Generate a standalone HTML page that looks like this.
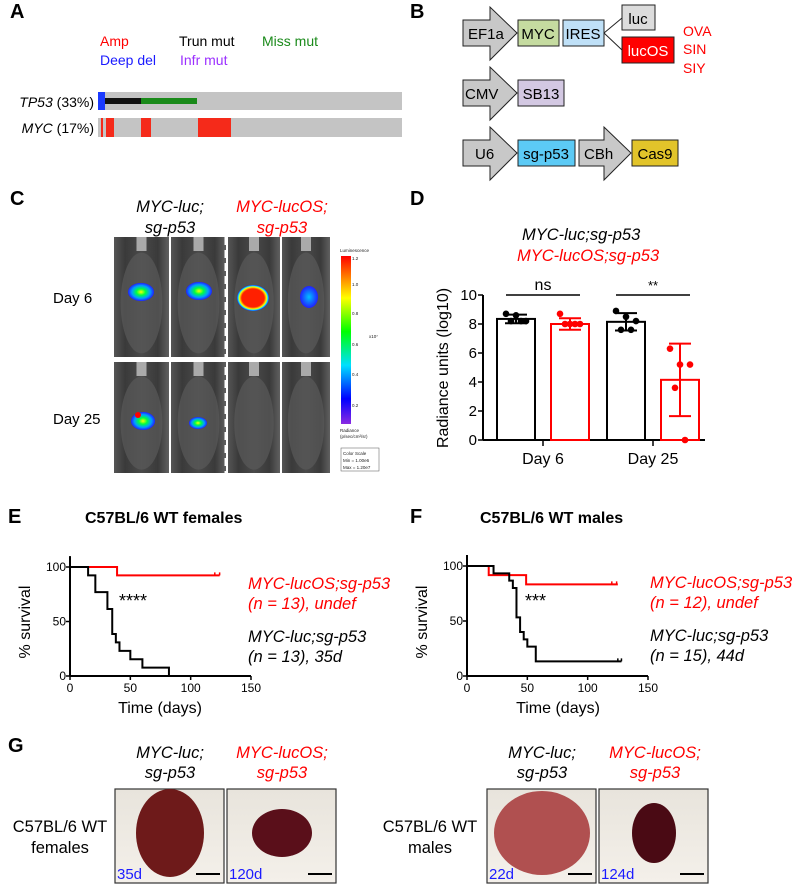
<!DOCTYPE html>
<html><head><meta charset="utf-8"><style>
html,body{margin:0;padding:0;background:#fff;}
svg{display:block;font-family:"Liberation Sans",Arial,sans-serif;}
</style></head><body>
<svg id="fig" width="800" height="886" viewBox="0 0 800 886" xmlns="http://www.w3.org/2000/svg">
<defs>
<linearGradient id="cbar" x1="0" y1="1" x2="0" y2="0">
<stop offset="0" stop-color="#8a2be2"/><stop offset="0.15" stop-color="#0000ff"/><stop offset="0.35" stop-color="#00e0ff"/><stop offset="0.55" stop-color="#00ff00"/><stop offset="0.75" stop-color="#ffff00"/><stop offset="1" stop-color="#ff0000"/></linearGradient>
<linearGradient id="mouse" x1="0" y1="0" x2="1" y2="0">
<stop offset="0" stop-color="#555"/><stop offset="0.2" stop-color="#3a3a3a"/><stop offset="0.5" stop-color="#4a4a4a"/><stop offset="0.8" stop-color="#3a3a3a"/><stop offset="1" stop-color="#606060"/></linearGradient>
<radialGradient id="blob"><stop offset="0" stop-color="#ffff00"/><stop offset="0.35" stop-color="#00ff40"/><stop offset="0.7" stop-color="#00a0ff"/><stop offset="1" stop-color="#2020ff"/></radialGradient>
<radialGradient id="blobR"><stop offset="0" stop-color="#ff2000"/><stop offset="0.7" stop-color="#ff2000"/><stop offset="0.85" stop-color="#ffff00"/><stop offset="0.93" stop-color="#00e0ff"/><stop offset="1" stop-color="#2020ff"/></radialGradient>
<radialGradient id="blobB"><stop offset="0" stop-color="#00c0ff"/><stop offset="1" stop-color="#2020ff"/></radialGradient>
<linearGradient id="liverbg" x1="0" y1="0" x2="0" y2="1"><stop offset="0" stop-color="#e8e4dc"/><stop offset="1" stop-color="#f4f0ea"/></linearGradient>
</defs>

<g font-weight="bold" font-size="20">
<text x="10" y="18">A</text>
<text x="410" y="18">B</text>
<text x="10" y="205">C</text>
<text x="410" y="205">D</text>
<text x="8" y="523">E</text>
<text x="410" y="523">F</text>
<text x="8" y="752">G</text>
</g>

<g font-size="14">
<text x="100" y="46" fill="#f00">Amp</text>
<text x="179" y="46" fill="#000">Trun mut</text>
<text x="262" y="46" fill="#1a8a1a">Miss mut</text>
<text x="100" y="65" fill="#1a1aff">Deep del</text>
<text x="180" y="65" fill="#9b30ff">Infr mut</text>
<text x="94" y="107" text-anchor="end"><tspan font-style="italic">TP53</tspan> (33%)</text>
<text x="94" y="133" text-anchor="end"><tspan font-style="italic">MYC</tspan> (17%)</text>
<rect x="98" y="92" width="304" height="18" fill="#c4c4c4"/>
<rect x="98" y="92" width="7" height="18" fill="#1a3aff"/>
<rect x="105" y="98" width="36" height="6" fill="#111"/>
<rect x="141" y="98" width="56" height="6" fill="#1a8a1a"/>
<rect x="98" y="118" width="304" height="19" fill="#c4c4c4"/>
<rect x="101" y="118" width="2" height="19" fill="#f52a1a"/>
<rect x="106" y="118" width="8" height="19" fill="#f52a1a"/>
<rect x="141" y="118" width="10" height="19" fill="#f52a1a"/>
<rect x="198" y="118" width="33" height="19" fill="#f52a1a"/>
</g>

<g font-size="15" stroke="#222" stroke-width="1">
<polygon points="463,20 490,20 490,7 517,33 490,60 490,46 463,46" fill="#c8c8c8"/>
<text x="468" y="39" stroke="none">EF1a</text>
<rect x="518" y="20" width="41" height="26" fill="#c5dba0"/>
<text x="538" y="39" text-anchor="middle" stroke="none">MYC</text>
<rect x="563" y="20" width="41" height="26" fill="#bfe0f7"/>
<text x="583" y="39" text-anchor="middle" stroke="none">IRES</text>
<line x1="604" y1="33" x2="622" y2="18"/><line x1="604" y1="33" x2="622" y2="50"/>
<rect x="622" y="5" width="33" height="25" fill="#dcdcdc"/>
<text x="638" y="24" text-anchor="middle" stroke="none">luc</text>
<rect x="622" y="37" width="52" height="26" fill="#f00"/>
<text x="648" y="56" text-anchor="middle" stroke="none" fill="#fff">lucOS</text>
<g stroke="none" fill="#f00" font-size="14"><text x="683" y="36">OVA</text><text x="683" y="54">SIN</text><text x="683" y="73">SIY</text></g>
<polygon points="463,80 490,80 490,67 517,93 490,120 490,106 463,106" fill="#c8c8c8"/>
<text x="465" y="99" stroke="none">CMV</text>
<rect x="518" y="80" width="46" height="26" fill="#d3c8e2"/>
<text x="541" y="99" text-anchor="middle" stroke="none">SB13</text>
<polygon points="463,140 490,140 490,127 517,153 490,180 490,166 463,166" fill="#c8c8c8"/>
<text x="475" y="159" stroke="none">U6</text>
<rect x="518" y="140" width="57" height="26" fill="#5ccaf5"/>
<text x="546" y="159" text-anchor="middle" stroke="none">sg-p53</text>
<polygon points="579,140 604,140 604,127 631,153 604,180 604,166 579,166" fill="#c8c8c8"/>
<text x="584" y="159" stroke="none">CBh</text>
<rect x="632" y="140" width="46" height="26" fill="#e2c42a"/>
<text x="655" y="159" text-anchor="middle" stroke="none">Cas9</text>
</g>

<g>
<g font-size="16.5" font-style="italic" text-anchor="middle">
<text x="170" y="212">MYC-luc;</text>
<text x="170" y="233">sg-p53</text>
<text x="282" y="212" fill="#f00">MYC-lucOS;</text>
<text x="282" y="233" fill="#f00">sg-p53</text>
</g>
<text x="53" y="303" font-size="15">Day 6</text>
<text x="53" y="424" font-size="15">Day 25</text>
<g id="mice"></g>
<rect x="341" y="256" width="10" height="168" fill="url(#cbar)"/>
<g font-size="4.5" fill="#222">
<text x="340" y="252">Luminescence</text>
<text x="352" y="260">1.2</text><text x="352" y="286">1.0</text><text x="352" y="315">0.8</text><text x="352" y="346">0.6</text><text x="352" y="376">0.4</text><text x="352" y="407">0.2</text>
<text x="369" y="338">x10⁷</text>
<text x="340" y="432">Radiance</text><text x="340" y="438">(p/sec/cm²/sr)</text>
<rect x="341" y="448" width="38" height="23" fill="none" stroke="#555" stroke-width="0.5"/>
<text x="343" y="455">Color Scale</text><text x="343" y="462">Min = 1.00e6</text><text x="343" y="469">Max = 1.20e7</text>
</g>
</g>

<g id="panelD">
<text x="522" y="240" font-size="16.5" font-style="italic">MYC-luc;sg-p53</text>
<text x="517" y="261" font-size="16.5" font-style="italic" fill="#f00">MYC-lucOS;sg-p53</text>
<text transform="translate(448,368) rotate(-90)" font-size="16" text-anchor="middle">Radiance units (log10)</text>
</g>

<g id="panelE">
<text x="85" y="523" font-size="16" font-weight="bold">C57BL/6 WT females</text>
<text x="119" y="607" font-size="18">****</text>
<text transform="translate(30,622) rotate(-90)" font-size="16" text-anchor="middle">% survival</text>
<text x="160" y="713" font-size="16" text-anchor="middle">Time (days)</text>
<g font-size="16.5" font-style="italic">
<text x="248" y="589" fill="#f00">MYC-lucOS;sg-p53</text>
<text x="248" y="609" fill="#f00">(n = 13), undef</text>
<text x="248" y="642">MYC-luc;sg-p53</text>
<text x="248" y="662">(n = 13), 35d</text>
</g>
</g>

<g id="panelF">
<text x="480" y="523" font-size="16" font-weight="bold">C57BL/6 WT males</text>
<text x="525" y="607" font-size="18">***</text>
<text transform="translate(427,622) rotate(-90)" font-size="16" text-anchor="middle">% survival</text>
<text x="558" y="713" font-size="16" text-anchor="middle">Time (days)</text>
<g font-size="16.5" font-style="italic">
<text x="650" y="588" fill="#f00">MYC-lucOS;sg-p53</text>
<text x="650" y="608" fill="#f00">(n = 12), undef</text>
<text x="650" y="641">MYC-luc;sg-p53</text>
<text x="650" y="661">(n = 15), 44d</text>
</g>
</g>

<g>
<g font-size="16.5" font-style="italic" text-anchor="middle">
<text x="170" y="758">MYC-luc;</text>
<text x="170" y="778">sg-p53</text>
<text x="282" y="758" fill="#f00">MYC-lucOS;</text>
<text x="282" y="778" fill="#f00">sg-p53</text>
<text x="542" y="758">MYC-luc;</text>
<text x="542" y="778">sg-p53</text>
<text x="655" y="758" fill="#f00">MYC-lucOS;</text>
<text x="655" y="778" fill="#f00">sg-p53</text>
</g>
<g font-size="16.5" text-anchor="middle">
<text x="60" y="832">C57BL/6 WT</text>
<text x="60" y="853">females</text>
<text x="430" y="832">C57BL/6 WT</text>
<text x="430" y="853">males</text>
</g>
<g id="livers"></g>
</g>
</svg>

<script>
const NS='http://www.w3.org/2000/svg';
function mk(parent,tag,attrs){const e=document.createElementNS(NS,tag);for(const k in attrs)e.setAttribute(k,attrs[k]);parent.appendChild(e);return e;}

// ---------- Panel D data ----------
const dCategories=['Day 6','Day 25'];
const dSeriesNames=['MYC-luc;sg-p53','MYC-lucOS;sg-p53'];
const dMeans=[[8.35,8.0],[8.15,4.15]];
const dErrors=[[0.3,0.4],[0.6,2.5]];
const dPoints=[[[8.7,8.6,8.2,8.2,8.2],[8.7,8.0,8.0,8.0,8.0]],[[8.9,8.5,8.2,7.6,7.6],[6.3,5.2,5.2,3.6,0]]];
const dYTicks=[0,2,4,6,8,10];
const dSigLabels=['ns','**'];

// ---------- Panel E data ----------
const eLucTimes=[0,15,21,31,35,38,41,50,60,82];
const eLucSurv=[100,92.3,76.9,61.5,38.5,30.8,23.1,15.4,7.7,0];
const eLucosTimes=[0,39,124];
const eLucosSurv=[100,92.3,92.3];
const eLucosCensor=[120,124];
const survXTicks=[0,50,100,150];
const survYTicks=[0,50,100];

// ---------- Panel F data ----------
const fLucTimes=[0,22,35,38,41,44,47,50,57,128];
const fLucSurv=[100,93.3,86.7,80,53.3,40,33.3,26.7,13.3,13.3];
const fLucCensor=[125,128];
const fLucosTimes=[0,18,49,125];
const fLucosSurv=[100,91.7,83.3,83.3];
const fLucosCensor=[120,124];

(function(){
 const g=document.getElementById('panelD');
 const x0=483,x1=705,yb=440,yt=295;
 const ys=v=>yb-(v/10)*(yb-yt);
 const groupC=[543,653], off=[-27,27], bw=38;
 const xb=(ci,si)=>groupC[ci]+off[si];
 mk(g,'line',{x1:x0,y1:yt,x2:x0,y2:yb,stroke:'#000','stroke-width':2});
 mk(g,'line',{x1:x0,y1:yb,x2:x1,y2:yb,stroke:'#000','stroke-width':2});
 dYTicks.forEach(t=>{
  mk(g,'line',{x1:x0-5,y1:ys(t),x2:x0,y2:ys(t),stroke:'#000','stroke-width':1.5});
  const tx=mk(g,'text',{x:x0-6,y:ys(t)+5,'font-size':15,'text-anchor':'end'});tx.textContent=t;
  
  
 });
 dCategories.forEach((c,ci)=>{
  mk(g,'line',{x1:groupC[ci],y1:yb,x2:groupC[ci],y2:yb+6,stroke:'#000','stroke-width':1.5});
  const tx=mk(g,'text',{x:groupC[ci],y:yb+24,'font-size':16,'text-anchor':'middle'});tx.textContent=c;
  
  
  dSeriesNames.forEach((s,si)=>{
   const col=si?'#f00':'#000';const cx=xb(ci,si);const m=dMeans[ci][si];const e=dErrors[ci][si];
   const r=mk(g,'rect',{x:cx-bw/2,y:ys(m),width:bw,height:yb-ys(m),fill:'#fff',stroke:col,'stroke-width':2});
   
   
   mk(g,'line',{x1:cx,y1:ys(m+e),x2:cx,y2:ys(Math.max(0,m-e)),stroke:col,'stroke-width':2});
   mk(g,'line',{x1:cx-11,y1:ys(m+e),x2:cx+11,y2:ys(m+e),stroke:col,'stroke-width':2});
   mk(g,'line',{x1:cx-11,y1:ys(m-e),x2:cx+11,y2:ys(m-e),stroke:col,'stroke-width':2});
   dPoints[ci][si].forEach((p,pi)=>{
    const dx=[-10,0,10,-5,5][pi];
    const c=mk(g,'circle',{cx:cx+dx,cy:ys(p),r:3.3,fill:col});
    
    
   });
  });
  const sy=ys(10);
  mk(g,'line',{x1:xb(ci,0)-10,y1:sy,x2:xb(ci,1)+10,y2:sy,stroke:'#000','stroke-width':1.5});
  const st=mk(g,'text',{x:groupC[ci],y:sy-5,'font-size':ci?13:16,'text-anchor':'middle'});st.textContent=dSigLabels[ci];
  
  
 });
})();

function surv(gid,ox,oxEnd,yTop,yZero,series){
 const g=document.getElementById(gid);
 const xs=d=>ox+d/150*(oxEnd-ox), ys=v=>yZero-v/100*(yZero-yTop);
 mk(g,'line',{x1:ox,y1:ys(110),x2:ox,y2:yZero,stroke:'#000','stroke-width':2});
 mk(g,'line',{x1:ox,y1:yZero,x2:oxEnd,y2:yZero,stroke:'#000','stroke-width':2});
 survYTicks.forEach(t=>{mk(g,'line',{x1:ox-4,y1:ys(t),x2:ox,y2:ys(t),stroke:'#000','stroke-width':1.5});
  const tx=mk(g,'text',{x:ox-4,y:ys(t)+4,'font-size':12,'text-anchor':'end'});tx.textContent=t;
  
  });
 survXTicks.forEach(t=>{mk(g,'line',{x1:xs(t),y1:yZero,x2:xs(t),y2:yZero+4,stroke:'#000','stroke-width':1.5});
  const tx=mk(g,'text',{x:xs(t),y:yZero+16,'font-size':12,'text-anchor':'middle'});tx.textContent=t;
  
  });
 series.forEach(s=>{
  let d='M'+xs(s.t[0])+','+ys(s.v[0]);
  for(let i=1;i<s.t.length;i++){d+=' H'+xs(s.t[i])+' V'+ys(s.v[i]);}
  const p=mk(g,'path',{d:d,fill:'none',stroke:s.c,'stroke-width':2});
  
  
  (s.cens||[]).forEach(c=>{mk(g,'line',{x1:xs(c),y1:ys(s.v[s.v.length-1])-3,x2:xs(c),y2:ys(s.v[s.v.length-1]),stroke:s.c,'stroke-width':1.5});});
 });
}
surv('panelE',70,251,567,676,[
 {t:eLucosTimes,v:eLucosSurv,c:'#f00',cens:eLucosCensor,name:'e-curve-lucos'},
 {t:eLucTimes,v:eLucSurv,c:'#000',name:'e-curve-luc'}]);
surv('panelF',467,648,566,676,[
 {t:fLucosTimes,v:fLucosSurv,c:'#f00',cens:fLucosCensor,name:'f-curve-lucos'},
 {t:fLucTimes,v:fLucSurv,c:'#000',cens:fLucCensor,name:'f-curve-luc'}]);

(function(){
 const g=document.getElementById('mice');
 const cols=[114,171,228,282],w=[55,55,52,48];
 [[237,120],[362,111]].forEach(row=>{
  cols.forEach((x,i)=>{
   const r=mk(g,'rect',{x:x,y:row[0],width:w[i],height:row[1],fill:'url(#mouse)'});
   
   
   mk(g,'ellipse',{cx:x+w[i]/2,cy:row[0]+row[1]*0.55,rx:w[i]*0.38,ry:row[1]*0.42,fill:'#5a5a5a',opacity:0.7});
   mk(g,'rect',{x:x+w[i]/2-5,y:row[0],width:10,height:14,fill:'#aaa'});
  });
 });
 mk(g,'rect',{x:113,y:357,width:218,height:5,fill:'#fff'});
 mk(g,'line',{x1:226,y1:237,x2:226,y2:473,stroke:'#fff','stroke-width':3,'stroke-dasharray':'8,5'});
 mk(g,'ellipse',{cx:141,cy:292,rx:13,ry:9,fill:'url(#blob)'});
 mk(g,'ellipse',{cx:199,cy:291,rx:13,ry:9,fill:'url(#blob)'});
 mk(g,'ellipse',{cx:253,cy:298,rx:16,ry:13,fill:'url(#blobR)'});
 mk(g,'ellipse',{cx:309,cy:297,rx:9,ry:11,fill:'url(#blobB)'});
 mk(g,'ellipse',{cx:143,cy:421,rx:12,ry:9,fill:'url(#blob)'});
 mk(g,'circle',{cx:138,cy:415,r:3,fill:'#f00'});
 mk(g,'ellipse',{cx:198,cy:423,rx:9,ry:6,fill:'url(#blob)'});
})();

(function(){
 const g=document.getElementById('livers');
 const boxes=[[115,'35d','#6e1a1a',34,44],[227,'120d','#5a0f1a',30,24],[487,'22d','#b05050',48,42],[599,'124d','#4a0a14',22,30]];
 boxes.forEach(b=>{
  const r=mk(g,'rect',{x:b[0],y:789,width:109,height:94,fill:'url(#liverbg)',stroke:'#333','stroke-width':1.2});
  
  
  mk(g,'ellipse',{cx:b[0]+55,cy:833,rx:b[3],ry:b[4],fill:b[2]});
  const t=mk(g,'text',{x:b[0]+2,y:879,'font-size':15,fill:'#1a1aff'});t.textContent=b[1];
  
  
  mk(g,'line',{x1:b[0]+81,y1:874,x2:b[0]+105,y2:874,stroke:'#000','stroke-width':2});
 });
})();
</script>
</body></html>
